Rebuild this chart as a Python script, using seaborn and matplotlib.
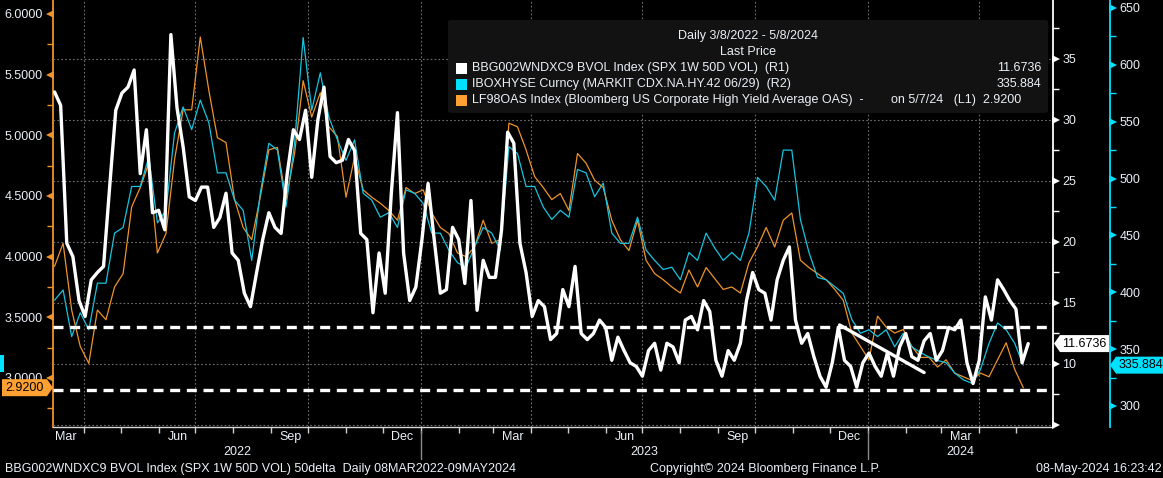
import pandas as pd
import matplotlib
matplotlib.use("Agg")
import matplotlib.pyplot as plt
import matplotlib.dates as mdates
import matplotlib.ticker as mticker
import matplotlib.transforms as mtransforms
from matplotlib.patches import Polygon, Rectangle, FancyBboxPatch
import seaborn as sns

# ---- data ----
START = "2022-03-08"

# BBG002WNDXC9 BVOL Index (SPX 1W 50D vol), right axis 1, one value every 5 days
BVOL = [32.3, 31.2, 19.9, 18.8, 15.2, 13.9, 16.9, 17.5, 18.0, 24.5,
        30.8, 32.2, 32.7, 34.1, 25.6, 29.2, 22.4, 22.6, 21.0, 37.0,
        31.0, 27.8, 23.7, 23.4, 24.5, 24.5, 21.2, 22.0, 24.0, 19.1,
        18.5, 15.8, 14.7, 17.5, 20.2, 22.4, 21.2, 20.7, 25.6, 29.2,
        28.4, 30.8, 25.3, 30.0, 32.7, 27.0, 26.5, 26.7, 28.4, 27.5,
        20.7, 20.2, 14.2, 19.1, 15.8, 24.0, 30.6, 19.1, 15.2, 16.3,
        20.2, 24.8, 20.2, 15.8, 16.1, 21.2, 20.2, 16.6, 23.4, 14.4,
        18.5, 17.1, 17.1, 21.0, 29.0, 28.1, 19.9, 17.5, 13.9, 15.2,
        14.7, 12.0, 12.5, 16.1, 14.7, 18.0, 12.5, 12.0, 12.5, 13.6,
        13.0, 10.3, 12.2, 11.1, 10.1, 9.8, 9.0, 11.1, 11.7, 9.5,
        11.7, 11.4, 10.1, 13.6, 13.9, 12.8, 15.2, 14.3, 10.3, 9.0,
        11.1, 10.3, 11.7, 15.2, 17.5, 16.1, 15.8, 13.6, 16.9, 18.5,
        19.6, 13.6, 11.7, 12.5, 10.6, 9.0, 8.1, 10.1, 13.0, 10.3,
        9.8, 8.1, 10.1, 10.9, 9.8, 9.0, 10.9, 9.0, 11.4, 12.5,
        10.6, 10.3, 11.9, 12.5, 10.3, 11.1, 13.0, 12.8, 13.6, 10.1,
        8.4, 10.3, 15.5, 13.6, 16.9, 16.1, 15.2, 14.5, 10.1, 11.6736]

# IBOXHYSE Curncy (CDX HY spread), right axis 2, weekly
CDX_HY = [393, 402, 361, 382, 367, 408, 408, 452, 457, 493,
          493, 519, 461, 472, 540, 563, 543, 569, 549, 505,
          505, 481, 472, 428, 487, 531, 525, 475, 531, 624,
          560, 593, 554, 534, 516, 534, 487, 481, 466, 470,
          457, 490, 487, 478, 452, 452, 437, 426, 422, 440,
          457, 452, 437, 528, 522, 493, 493, 475, 464, 472,
          466, 508, 505, 484, 496, 452, 443, 443, 466, 437,
          428, 420, 422, 411, 435, 428, 452, 439, 428, 435,
          428, 452, 501, 493, 481, 525, 525, 464, 435, 413,
          411, 405, 399, 376, 364, 367, 361, 367, 352, 364,
          352, 347, 343, 340, 338, 329, 323, 320, 332, 355,
          373, 367, 355, 335.884]

# LF98OAS Index (US Corporate HY average OAS), left axis, weekly
HY_OAS = [3.92, 4.11, 3.56, 3.26, 3.12, 3.56, 3.48, 3.75, 3.86, 4.41,
          4.57, 4.77, 4.03, 4.19, 4.80, 5.21, 5.21, 5.81, 5.37, 4.98,
          4.94, 4.47, 4.24, 4.14, 4.49, 4.88, 4.90, 4.47, 4.85, 5.45,
          5.15, 5.35, 5.07, 4.99, 4.49, 4.82, 4.55, 4.49, 4.44, 4.38,
          4.30, 4.57, 4.52, 4.55, 4.36, 4.24, 4.19, 4.03, 4.00, 4.08,
          4.30, 4.11, 4.14, 5.10, 5.07, 4.88, 4.66, 4.57, 4.47, 4.52,
          4.38, 4.85, 4.77, 4.63, 4.57, 4.30, 4.14, 4.05, 4.30, 3.97,
          3.86, 3.81, 3.75, 3.70, 3.89, 3.75, 3.91, 3.82, 3.73, 3.75,
          3.70, 3.95, 4.08, 4.24, 4.08, 4.30, 4.36, 3.97, 3.91, 3.86,
          3.81, 3.73, 3.64, 3.37, 3.26, 3.15, 3.51, 3.42, 3.37, 3.40,
          3.26, 3.17, 3.17, 3.09, 3.15, 3.04, 3.01, 2.98, 3.04, 3.01,
          3.15, 3.29, 3.07, 2.92]

# hand-drawn annotations (right axis 1 units)
LEVELS = [13.0, 7.9]
TREND_DATES = ["2023-12-09", "2024-02-16"]
TREND_VALS = [13.2, 9.3]

LEGEND_ROWS = [
    ("BBG002WNDXC9 BVOL Index (SPX 1W 50D VOL)  (R1)", "11.6736"),
    ("IBOXHYSE Curncy (MARKIT CDX.NA.HY.42 06/29)  (R2)", "335.884"),
    ("LF98OAS Index (Bloomberg US Corporate High Yield Average OAS)  -", "on 5/7/24   (L1)  2.9200"),
]

WHITE = "#ffffff"
CYAN = "#17c4de"
CYAN_KEY = "#00e1ff"
ORANGE = "#ee9329"
ORANGE_KEY = "#ffa033"
TXT = "#eaf0f6"
GRID = "#707070"

sns.set_theme(style="dark", rc={"axes.facecolor": "black", "figure.facecolor": "black",
                                "axes.grid": False, "axes.edgecolor": "white"})
plt.rcParams["font.family"] = ["Liberation Sans", "DejaVu Sans"]

bvol = pd.DataFrame({"date": pd.date_range(START, periods=len(BVOL), freq="5D"), "value": BVOL})
weekly = pd.date_range(START, periods=len(CDX_HY), freq="7D")
cdx = pd.DataFrame({"date": weekly, "value": CDX_HY})
oas = pd.DataFrame({"date": weekly, "value": HY_OAS})

W, H = 1163, 478
L, R, B = 53.3, 1052.7, 427
fig = plt.figure(figsize=(W / 100, H / 100), dpi=100, facecolor="black")
ax = fig.add_axes([L / W, 1 - B / H, (R - L) / W, B / H])
ax.set_facecolor("black")
ax_r2 = ax.twinx()
ax_r1 = ax.twinx()

sns.lineplot(data=oas, x="date", y="value", ax=ax, color=ORANGE, lw=0.9, legend=False)
sns.lineplot(data=cdx, x="date", y="value", ax=ax_r2, color=CYAN, lw=0.9, legend=False)
sns.lineplot(data=bvol, x="date", y="value", ax=ax_r1, color=WHITE, lw=2.4, legend=False)

ax.set_xlim(pd.Timestamp("2022-03-07"), pd.Timestamp("2024-05-31"))
ax.set_ylim(2.596, 6.115)
ax_r1.set_ylim(4.836, 39.836)
ax_r2.set_ylim(281.5, 657.0)
for a in (ax, ax_r1, ax_r2):
    a.set_xlabel("")
    a.set_ylabel("")
    a.grid(False)
    for s in a.spines.values():
        s.set_visible(False)

ax.spines["left"].set_visible(True)
ax.spines["left"].set_color(ORANGE)
ax.spines["left"].set_linewidth(1.3)
ax.spines["bottom"].set_visible(True)
ax.spines["bottom"].set_color("#d8d8d8")
ax.spines["bottom"].set_linewidth(1.0)
ax_r1.spines["right"].set_visible(True)
ax_r1.spines["right"].set_color(WHITE)
ax_r1.spines["right"].set_linewidth(1.3)
R2_POS = 1.057
ax_r2.spines["right"].set_visible(True)
ax_r2.spines["right"].set_position(("axes", R2_POS))
ax_r2.spines["right"].set_color(CYAN_KEY)
ax_r2.spines["right"].set_linewidth(1.3)

# y ticks: minor marks as lines, major marks as small triangles (drawn below)
ax.yaxis.set_major_locator(mticker.MultipleLocator(0.5))
ax.yaxis.set_minor_locator(mticker.MultipleLocator(0.25))
ax.yaxis.set_major_formatter(mticker.StrMethodFormatter("{x:.4f}"))
ax.tick_params(axis="y", which="major", left=True, length=0, labelcolor=TXT, pad=7.5, labelsize=9)
ax.tick_params(axis="y", which="minor", left=True, color=ORANGE, length=4, width=1)

ax_r1.yaxis.set_major_locator(mticker.MultipleLocator(5))
ax_r1.yaxis.set_minor_locator(mticker.MultipleLocator(2.5))
ax_r1.yaxis.set_major_formatter(mticker.FuncFormatter(lambda v, p: "" if v < 7 else f"{v:g}"))
ax_r1.tick_params(axis="y", which="major", right=True, length=0, labelcolor=TXT, pad=7, labelsize=9)
ax_r1.tick_params(axis="y", which="minor", right=True, color=WHITE, length=4, width=1)

ax_r2.yaxis.set_major_locator(mticker.MultipleLocator(50))
ax_r2.yaxis.set_minor_locator(mticker.MultipleLocator(25))
ax_r2.tick_params(axis="y", which="major", right=True, length=0, labelcolor=TXT, pad=7, labelsize=9)
ax_r2.tick_params(axis="y", which="minor", right=True, color=CYAN_KEY, length=4, width=1)


def tick_marks(axis, xpos, marker, color):
    lo, hi = axis.get_ylim()
    ticks = [t for t in axis.get_yticks() if lo <= t <= hi]
    trans = mtransforms.blended_transform_factory(ax.transAxes, axis.transData)
    axis.plot([xpos] * len(ticks), ticks, ls="none", marker=marker, ms=5.5, mew=0,
              color=color, transform=trans, clip_on=False, zorder=5)


tick_marks(ax, -3.2 / (R - L), "<", ORANGE)
tick_marks(ax_r1, 1 + 3.2 / (R - L), ">", WHITE)
tick_marks(ax_r2, R2_POS + 3.2 / (R - L), ">", CYAN_KEY)

# x ticks: month marks, quarter month names mid-month
ax.xaxis.set_major_locator(mdates.MonthLocator())
ax.xaxis.set_major_formatter(mticker.NullFormatter())
ax.xaxis.set_minor_locator(mdates.MonthLocator(bymonth=[3, 6, 9, 12], bymonthday=17))
ax.xaxis.set_minor_formatter(mdates.DateFormatter("%b"))
ax.tick_params(axis="x", which="major", bottom=True, color="#cfcfcf", length=4, width=1)
ax.tick_params(axis="x", which="minor", bottom=True, length=0, labelcolor=TXT,
               labelsize=9, pad=3)

# grid: horizontal on R1 ticks, vertical on quarter starts
ax_r1.grid(axis="y", which="major", ls=(0, (1.5, 2)), color=GRID, lw=0.8)
for d in pd.date_range("2022-04-01", "2024-04-01", freq="QS"):
    ax.axvline(d, color=GRID, ls=(0, (1.5, 2)), lw=0.8, zorder=0.5)

# year row
tr = mtransforms.blended_transform_factory(ax.transData, ax.transAxes)
x0, x1 = [mdates.num2date(v).replace(tzinfo=None) for v in ax.get_xlim()]
bounds = [pd.Timestamp(x0), pd.Timestamp("2023-01-01"), pd.Timestamp("2024-01-01"), pd.Timestamp(x1)]
for yr, a, b in zip(["2022", "2023", "2024"], bounds[:-1], bounds[1:]):
    ax.text(a + (b - a) / 2, -0.0585, yr, transform=tr, ha="center", va="center",
            color=TXT, fontsize=9)
for d in bounds[1:3]:
    ax.plot([d, d], [-0.01, -0.074], transform=tr, color="#8a8a8a", lw=1, clip_on=False)

# drawn levels and trend line
for lvl in LEVELS:
    ax_r1.axhline(lvl, color=WHITE, lw=2.4, ls=(0, (3, 2)), zorder=3)
ax_r1.plot(pd.to_datetime(TREND_DATES), TREND_VALS, color=WHITE, lw=2.4, zorder=3)


# last-value tags
def px(x):
    return (x - L) / (R - L)


def value_tag(axis, value, label, color, body0, body1, tip, tcolor="black"):
    y = ax.transAxes.inverted().transform(axis.transData.transform((ax.get_xlim()[0], value)))[1]
    h = 8.5 / B
    if tip < body0:
        verts = [(tip, y), (body0, y + h), (body1, y + h), (body1, y - h), (body0, y - h)]
    else:
        verts = [(tip, y), (body1, y + h), (body0, y + h), (body0, y - h), (body1, y - h)]
    ax_r1.add_patch(Polygon(verts, closed=True, transform=ax.transAxes, fc=color, ec="none",
                            clip_on=False, zorder=30))
    ax_r1.text((body0 + body1) / 2, y, label, transform=ax.transAxes, ha="center", va="center",
               color=tcolor, fontsize=9, zorder=31, clip_on=False)


value_tag(ax_r1, BVOL[-1], f"{BVOL[-1]:.4f}", WHITE, px(1060), px(1109), px(1054))
value_tag(ax_r2, CDX_HY[-1], f"{CDX_HY[-1]:.3f}", CYAN_KEY, px(1116), px(1166), px(1110))
value_tag(ax, HY_OAS[-1], f"{HY_OAS[-1]:.4f}", ORANGE_KEY, px(2), px(47), px(53))
fig.add_artist(Rectangle((0, 1 - 372 / H), 4 / W, 17 / H, transform=fig.transFigure,
                         fc=CYAN_KEY, ec="none"))

# legend panel
ax_r1.add_patch(FancyBboxPatch((448 / W, 1 - 113 / H), 600 / W, 93 / H,
                               boxstyle="round,pad=0,rounding_size=0.004",
                               transform=fig.transFigure, fc="#121212", ec="none",
                               zorder=40, clip_on=False))
ax_r1.text(748 / W, 1 - 36 / H, "Daily 3/8/2022 - 5/8/2024", transform=fig.transFigure,
           ha="center", va="center", color=TXT, fontsize=9, zorder=41)
ax_r1.text(748 / W, 1 - 52 / H, "Last Price", transform=fig.transFigure,
           ha="center", va="center", color=TXT, fontsize=9, zorder=41)
for i, ((name, last), key, row_y) in enumerate(zip(LEGEND_ROWS, [WHITE, CYAN_KEY, ORANGE_KEY],
                                                  [68, 84, 100])):
    ax_r1.add_patch(Rectangle((456 / W, 1 - (row_y + 5.5) / H), 11 / W, 11 / H,
                              transform=fig.transFigure, fc=key, ec="none", zorder=41,
                              clip_on=False))
    ax_r1.text(472 / W, 1 - row_y / H, name, transform=fig.transFigure, ha="left",
               va="center", color=TXT, fontsize=9, zorder=41)
    if i < 2:
        ax_r1.text(1041 / W, 1 - row_y / H, last, transform=fig.transFigure, ha="right",
                   va="center", color=TXT, fontsize=9, zorder=41)
    else:
        ax_r1.text(891 / W, 1 - row_y / H, last, transform=fig.transFigure,
                   ha="left", va="center", color=TXT, fontsize=9, zorder=41)

# footer
fig.text(5 / W, 1 - 469 / H, "BBG002WNDXC9 BVOL Index (SPX 1W 50D VOL) 50delta  Daily 08MAR2022-09MAY2024",
         ha="left", va="center", color=TXT, fontsize=9)
fig.text(650 / W, 1 - 469 / H, "Copyright\u00a9 2024 Bloomberg Finance L.P.",
         ha="left", va="center", color=TXT, fontsize=9)
fig.text(1162 / W, 1 - 469 / H, "08-May-2024 16:23:42",
         ha="right", va="center", color=TXT, fontsize=9)

fig.savefig("out.png", dpi=100, facecolor="black")
plt.close(fig)
